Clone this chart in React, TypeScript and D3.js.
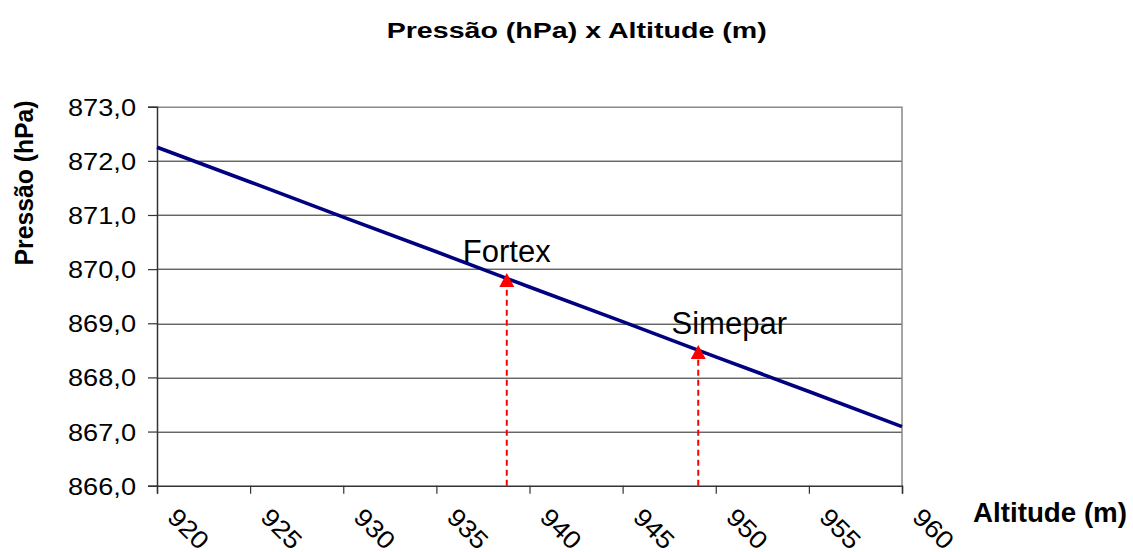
import React, { useRef, useEffect } from 'react';
import * as d3 from 'd3';

// altitude (m) vs pressure (hPa)
const altitudes = [920, 925, 930, 935, 940, 945, 950, 955, 960];
const pressures = [872.25, 871.61, 870.96, 870.32, 869.67, 869.03, 868.38, 867.74, 867.09];

const yTicks = [866, 867, 868, 869, 870, 871, 872, 873];
const xTicks = [920, 925, 930, 935, 940, 945, 950, 955, 960];

const stationNames = ['Fortex', 'Simepar'];
const stationAltitudes = [938.78, 949.06];
const stationPressures = [869.93, 868.6];

const FONT = '"Liberation Sans", Arial, Helvetica, sans-serif';

export default function App() {
  const svgRef = useRef<SVGSVGElement>(null);
  const width = 1133;
  const height = 552;

  useEffect(() => {
    const svg = d3.select(svgRef.current);
    svg.selectAll('*').remove();

    const margin = { top: 106.7, right: 231, bottom: 66.3, left: 157 };
    const innerWidth = width - margin.left - margin.right;
    const innerHeight = height - margin.top - margin.bottom;

    const x = d3.scaleLinear().domain([920, 960]).range([0, innerWidth]);
    const y = d3.scaleLinear().domain([866, 873]).range([innerHeight, 0]);

    svg.append('rect').attr('width', width).attr('height', height).attr('fill', '#fff');

    const g = svg.append('g').attr('transform', `translate(${margin.left},${margin.top})`);

    // horizontal gridlines
    g.selectAll('.grid')
      .data(yTicks.filter(t => t !== 866 && t !== 873))
      .enter()
      .append('line')
      .attr('x1', 0)
      .attr('x2', innerWidth)
      .attr('y1', d => Math.round(y(d)) + 0.5)
      .attr('y2', d => Math.round(y(d)) + 0.5)
      .attr('stroke', '#222')
      .attr('stroke-width', 1);

    // top and right border
    g.append('path')
      .attr('d', `M0,${Math.round(y(873)) + 0.5}H${innerWidth}V${innerHeight}`)
      .attr('fill', 'none')
      .attr('stroke', '#888')
      .attr('stroke-width', 1.5);

    // y axis
    const yAxis = d3.axisLeft(y)
      .tickValues(yTicks)
      .tickSize(9)
      .tickFormat(d => d3.format('.1f')(d as number).replace('.', ','));
    const yg = g.append('g').call(yAxis);
    yg.select('.domain').attr('stroke', '#333').attr('stroke-width', 1.5);
    yg.selectAll('.tick line').attr('stroke', '#333').attr('stroke-width', 1.2);
    yg.selectAll('.tick text')
      .attr('x', -21)
      .attr('dy', '0.36em')
      .attr('fill', '#000')
      .style('font-family', FONT)
      .style('font-size', '23.5px')
      .attr('textLength', 68)
      .attr('lengthAdjust', 'spacingAndGlyphs');

    // x axis
    const xAxis = d3.axisBottom(x).tickValues(xTicks).tickSize(8).tickFormat(d3.format('d'));
    const xg = g.append('g').attr('transform', `translate(0,${innerHeight})`).call(xAxis);
    xg.select('.domain').attr('stroke', '#333').attr('stroke-width', 1.5);
    xg.selectAll('.tick line').attr('stroke', '#333').attr('stroke-width', 1.2);
    xg.selectAll('.tick text')
      .attr('x', 0)
      .attr('y', 0)
      .attr('dy', '0.35em')
      .attr('transform', 'translate(31,43) rotate(45)')
      .attr('text-anchor', 'middle')
      .attr('fill', '#000')
      .style('font-family', FONT)
      .style('font-size', '25px')
      .attr('textLength', 46)
      .attr('lengthAdjust', 'spacingAndGlyphs');

    // pressure line
    const line = d3.line<number>()
      .x((_, i) => x(altitudes[i]))
      .y(d => y(d));
    g.append('path')
      .datum(pressures)
      .attr('d', line)
      .attr('fill', 'none')
      .attr('stroke', '#000080')
      .attr('stroke-width', 3.6);

    // station markers: dashed red arrows
    stationNames.forEach((name, i) => {
      const sx = x(stationAltitudes[i]);
      const tip = y(stationPressures[i]);
      g.append('line')
        .attr('x1', sx)
        .attr('x2', sx)
        .attr('y1', innerHeight)
        .attr('y2', tip + 12)
        .attr('stroke', '#ff0000')
        .attr('stroke-width', 2)
        .attr('stroke-dasharray', '6,4');
      g.append('path')
        .attr('d', `M${sx},${tip}L${sx - 7.5},${tip + 14}L${sx + 7.5},${tip + 14}Z`)
        .attr('fill', '#ff0000');
      g.append('text')
        .attr('x', i === 0 ? sx : sx + 31)
        .attr('y', tip - 10.5)
        .attr('text-anchor', 'middle')
        .attr('fill', '#000')
        .style('font-family', FONT)
        .style('font-size', '31px')
        .text(name);
    });

    // titles
    svg.append('text')
      .attr('x', 576.7)
      .attr('y', 38.3)
      .attr('text-anchor', 'middle')
      .style('font-family', FONT)
      .style('font-size', '22px')
      .style('font-weight', 'bold')
      .attr('textLength', 380)
      .attr('lengthAdjust', 'spacingAndGlyphs')
      .text('Pressão (hPa) x Altitude (m)');

    svg.append('text')
      .attr('transform', 'translate(33,183) rotate(-90)')
      .attr('text-anchor', 'middle')
      .style('font-family', FONT)
      .style('font-size', '25px')
      .style('font-weight', 'bold')
      .attr('textLength', 165)
      .attr('lengthAdjust', 'spacingAndGlyphs')
      .text('Pressão (hPa)');

    svg.append('text')
      .attr('x', 973)
      .attr('y', 521.5)
      .style('font-family', FONT)
      .style('font-size', '27px')
      .style('font-weight', 'bold')
      .attr('textLength', 154)
      .attr('lengthAdjust', 'spacingAndGlyphs')
      .text('Altitude (m)');
  }, []);

  return (
    <div>
      <svg
        ref={svgRef}
        width={width}
        height={height}
        style={{ position: 'absolute', left: 0, top: 0, display: 'block' }}
      />
    </div>
  );
}
